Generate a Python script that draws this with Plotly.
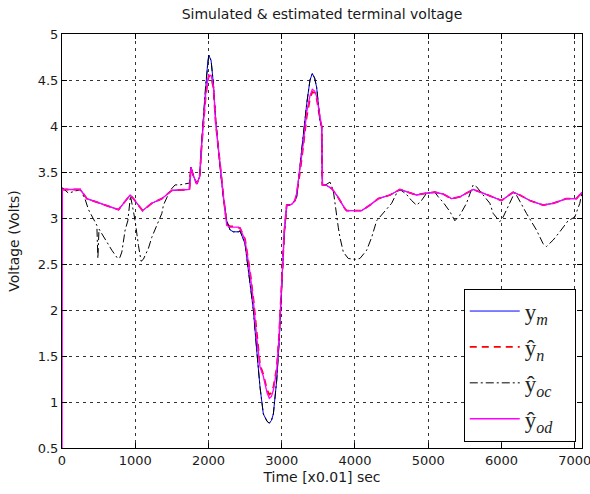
import plotly.graph_objects as go

# ---------------- data ----------------
t_main = [0, 5, 250, 340, 771, 930, 976, 1100, 1226, 1363, 1500, 1740, 1760, 1794, 1840, 1880,
          1908, 1931, 1963, 1990, 2005, 2036, 2067, 2099, 2135, 2172, 2204, 2249, 2295, 2340,
          2408, 2431, 2499, 2567, 2613, 2659, 2704, 2749, 2800, 2831, 2860, 2886, 2932, 2963,
          2986, 3008, 3035, 3068, 3100, 3140, 3181, 3204, 3250, 3295, 3341, 3386, 3418, 3450,
          3477, 3523, 3546, 3555, 3600, 3682, 3750, 3864, 3886, 4091, 4205, 4318, 4478, 4614,
          4750, 4841, 4978, 5092, 5205, 5319, 5432, 5614, 5750, 6001, 6160, 6251, 6387, 6569,
          6706, 6888, 7024, 7100]

y_m = [3.32, 3.31, 3.31, 3.21, 3.09, 3.25, 3.21, 3.08, 3.16, 3.21, 3.30, 3.31, 3.55, 3.46, 3.37, 3.45,
       3.84, 4.10, 4.46, 4.70, 4.77, 4.71, 4.46, 4.06, 3.74, 3.45, 3.22, 2.97, 2.87, 2.85,
       2.85, 2.86, 2.72, 2.29, 2.00, 1.56, 1.16, 0.87, 0.79, 0.77, 0.80, 0.87, 1.24, 1.63,
       2.00, 2.47, 2.83, 3.14, 3.14, 3.15, 3.19, 3.23, 3.57, 3.95, 4.24, 4.50, 4.57, 4.52,
       4.42, 4.06, 3.99, 3.36, 3.36, 3.32, 3.25, 3.10, 3.08, 3.08, 3.14, 3.21, 3.25, 3.31,
       3.27, 3.25, 3.27, 3.28, 3.26, 3.21, 3.23, 3.31, 3.27, 3.19, 3.28, 3.25, 3.19, 3.14,
       3.16, 3.21, 3.21, 3.28]

y_n = [3.32, 3.31, 3.31, 3.21, 3.09, 3.25, 3.21, 3.08, 3.16, 3.21, 3.30, 3.31, 3.55, 3.46, 3.37, 3.45,
       3.80, 4.02, 4.33, 4.48, 4.55, 4.53, 4.42, 4.03, 3.74, 3.45, 3.24, 2.93, 2.91, 2.91,
       2.90, 2.89, 2.77, 2.42, 2.12, 1.72, 1.40, 1.30, 1.13, 1.08, 1.10, 1.16, 1.37, 1.71,
       2.06, 2.50, 2.85, 3.14, 3.14, 3.15, 3.19, 3.26, 3.50, 3.79, 4.10, 4.30, 4.37, 4.36,
       4.30, 4.08, 3.99, 3.36, 3.36, 3.32, 3.25, 3.10, 3.08, 3.08, 3.14, 3.21, 3.25, 3.31,
       3.27, 3.25, 3.27, 3.28, 3.26, 3.21, 3.23, 3.31, 3.27, 3.19, 3.28, 3.25, 3.19, 3.14,
       3.16, 3.21, 3.21, 3.28]

y_od = [0.00, 3.31, 3.31, 3.21, 3.09, 3.25, 3.21, 3.08, 3.16, 3.21, 3.30, 3.31, 3.55, 3.46, 3.37, 3.45,
        3.80, 4.03, 4.35, 4.50, 4.55, 4.55, 4.44, 4.03, 3.74, 3.45, 3.24, 2.92, 2.90, 2.90,
        2.90, 2.89, 2.76, 2.40, 2.10, 1.70, 1.38, 1.28, 1.10, 1.04, 1.06, 1.13, 1.35, 1.70,
        2.05, 2.50, 2.85, 3.14, 3.14, 3.15, 3.19, 3.27, 3.52, 3.81, 4.15, 4.33, 4.40, 4.38,
        4.32, 4.10, 3.99, 3.36, 3.36, 3.32, 3.25, 3.10, 3.08, 3.08, 3.14, 3.21, 3.25, 3.31,
        3.27, 3.25, 3.27, 3.28, 3.26, 3.21, 3.23, 3.31, 3.27, 3.19, 3.28, 3.25, 3.19, 3.14,
        3.16, 3.21, 3.21, 3.28]

t_oc = [0, 89, 250, 317, 362, 476, 490, 505, 612, 680, 760, 790, 817, 862, 899, 935, 976, 1000,
        1044, 1080, 1110, 1180, 1226, 1317, 1363, 1385, 1476, 1544, 1612, 1740, 1760, 1794, 1840,
        1880, 1908, 1931, 1963, 1990, 2005, 2036, 2067, 2099, 2135, 2172, 2204, 2249, 2295, 2340,
        2408, 2431, 2499, 2567, 2613, 2659, 2704, 2749, 2800, 2831, 2860, 2886, 2932, 2963, 2986,
        3008, 3035, 3068, 3100, 3140, 3181, 3204, 3250, 3295, 3341, 3386, 3418, 3450, 3477, 3523,
        3546, 3555, 3600, 3659, 3704, 3772, 3795, 3841, 3909, 4000, 4068, 4160, 4228, 4296, 4409,
        4501, 4569, 4614, 4700, 4773, 4841, 4900, 4978, 5092, 5137, 5205, 5296, 5364, 5432, 5523,
        5614, 5660, 5750, 5842, 5887, 5978, 6023, 6115, 6183, 6260, 6342, 6478, 6569, 6615, 6706,
        6797, 6910, 7001, 7070, 7100]

y_oc = [3.33, 3.27, 3.31, 3.20, 3.09, 2.92, 2.56, 2.88, 2.74, 2.65, 2.56, 2.57, 2.63, 2.87, 2.97, 3.24, 3.07, 2.96,
        2.70, 2.53, 2.55, 2.67, 2.79, 2.97, 3.05, 3.14, 3.30, 3.36, 3.36, 3.38, 3.55, 3.46, 3.37,
        3.45, 3.84, 4.10, 4.46, 4.70, 4.77, 4.71, 4.46, 4.06, 3.74, 3.45, 3.22, 2.97, 2.87, 2.85,
        2.85, 2.86, 2.72, 2.29, 2.00, 1.56, 1.16, 0.87, 0.79, 0.77, 0.80, 0.87, 1.24, 1.63, 2.00,
        2.47, 2.83, 3.14, 3.14, 3.15, 3.19, 3.23, 3.57, 3.95, 4.24, 4.50, 4.57, 4.52, 4.42, 4.06,
        3.99, 3.36, 3.36, 3.39, 3.30, 2.90, 2.79, 2.63, 2.56, 2.55, 2.56, 2.65, 2.79, 2.97, 3.07,
        3.16, 3.27, 3.31, 3.26, 3.19, 3.14, 3.18, 3.27, 3.28, 3.23, 3.17, 3.07, 2.97, 3.03, 3.16,
        3.36, 3.34, 3.25, 3.16, 3.05, 2.96, 3.01, 3.16, 3.28, 3.17, 3.05, 2.87, 2.72, 2.69, 2.76,
        2.85, 2.97, 3.01, 3.16, 3.28]

assert len(t_main) == len(y_m) == len(y_n) == len(y_od)
assert len(t_oc) == len(y_oc)

x_ticks = [0, 1000, 2000, 3000, 4000, 5000, 6000, 7000]
y_ticks = [0.5, 1, 1.5, 2, 2.5, 3, 3.5, 4, 4.5, 5]
y_tick_text = ["0.5", "1", "1.5", "2", "2.5", "3", "3.5", "4", "4.5", "5"]

pad = "\u00a0\u00a0\u00a0"
names = ["y<sub><i>m</i></sub>" + pad, "ŷ<sub><i>n</i></sub>" + pad,
         "ŷ<sub><i>oc</i></sub>" + pad, "ŷ<sub><i>od</i></sub>" + pad]

# ---------------- figure ----------------
fig = go.Figure()
fig.add_trace(go.Scatter(x=t_main, y=y_m, mode="lines", name=names[0], legendgroup="a",
                         line=dict(color="#0000ff", width=1)))
fig.add_trace(go.Scatter(x=t_main, y=y_n, mode="lines", name=names[1], legendgroup="b",
                         line=dict(color="#ff0000", width=1.8, dash="7px,5px")))
fig.add_trace(go.Scatter(x=t_oc, y=y_oc, mode="lines", name=names[2], legendgroup="c",
                         line=dict(color="#000000", width=1, dash="8px,3px,2px,3px")))
fig.add_trace(go.Scatter(x=t_main, y=y_od, mode="lines", name=names[3], legendgroup="d",
                         line=dict(color="#ff00ff", width=1.3)))

font_main = "DejaVu Sans, Arial, sans-serif"
txt_col = "#1a1a1a"
axis_common = dict(
    showline=True, linecolor="black", linewidth=1, mirror="ticks",
    ticks="inside", ticklen=5, tickcolor="black", tickwidth=1,
    showgrid=True, gridcolor="#333333", gridwidth=1, griddash="3px,4px",
    zeroline=False, tickfont=dict(family=font_main, size=13, color=txt_col),
    ticklabeloverflow="allow", automargin=False,
)

fig.update_layout(
    width=590, height=494,
    margin=dict(l=62, r=8, t=34, b=46, autoexpand=False),
    paper_bgcolor="white", plot_bgcolor="white",
    title=dict(text="Simulated & estimated terminal voltage", x=0.5, xref="paper",
               y=1 - 14 / 494, yref="container", yanchor="middle", xanchor="center",
               font=dict(family=font_main, size=14, color=txt_col)),
    xaxis=dict(range=[0, 7100], tickvals=x_ticks,
               title=dict(text="Time [x0.01] sec", standoff=5,
                          font=dict(family=font_main, size=14, color=txt_col)),
               **axis_common),
    yaxis=dict(range=[0.5, 5], tickvals=y_ticks, ticktext=y_tick_text,
               title=dict(text="Voltage (Volts)", standoff=14,
                          font=dict(family=font_main, size=14, color=txt_col)),
               **axis_common),
    legend=dict(x=0.988, y=0.0155, xanchor="right", yanchor="bottom",
                bgcolor="white", bordercolor="black", borderwidth=1,
                font=dict(family="Liberation Serif, DejaVu Serif, serif", size=23, color="#222222"),
                itemwidth=50, tracegroupgap=3, traceorder="grouped"),
    showlegend=True,
)

fig.write_html("out.html")
